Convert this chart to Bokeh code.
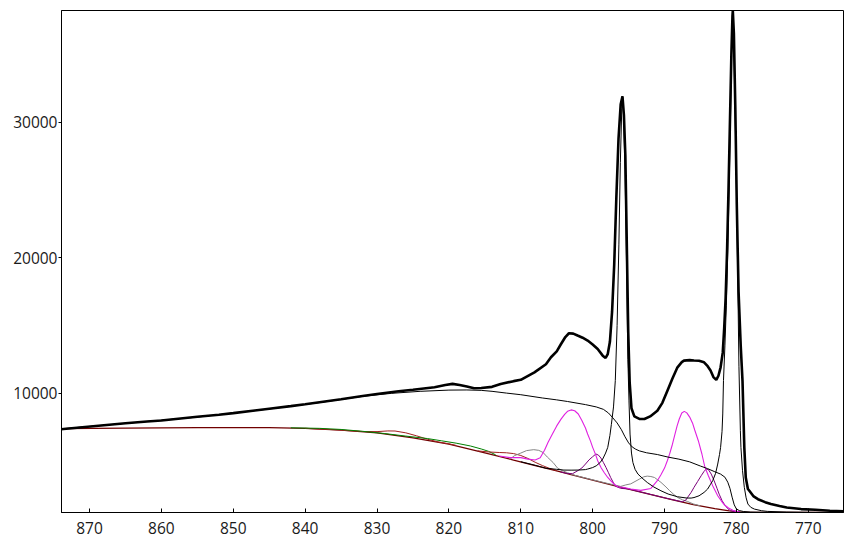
from bokeh.plotting import figure
from bokeh.models import Range1d, FixedTicker
from bokeh.embed import file_html
from bokeh.resources import INLINE

x_ticks = [870, 860, 850, 840, 830, 820, 810, 800, 790, 780, 770]
y_ticks = [10000, 20000, 30000]

raw_ev = [874.0, 871.0, 868.0, 865.0, 862.0, 860.0, 857.0, 855.0, 852.0, 850.0, 847.0, 845.0,
          842.0, 840.0, 837.0, 835.0, 832.0, 830.0, 827.0, 825.0, 822.0, 820.5, 819.5, 818.5,
          817.5, 816.5, 815.5, 814.0, 812.8, 811.0, 810.0, 808.1, 806.5, 805.8, 805.0, 804.4,
          803.8, 803.3, 802.7, 802.1, 801.4, 800.7, 800.0, 799.3, 798.6, 798.2, 797.9, 797.6,
          797.3, 797.0, 796.7, 796.4, 796.1, 795.85, 795.65, 795.45, 795.25, 795.05, 794.85, 794.6,
          794.2, 793.5, 792.8, 792.0, 791.0, 790.3, 789.6, 788.9, 788.2, 787.6, 787.3, 786.5,
          785.9, 785.2, 784.5, 784.0, 783.6, 783.2, 782.8, 782.5, 782.2, 781.9, 781.7, 781.5,
          781.3, 781.1, 780.9, 780.7, 780.55, 780.5, 780.35, 780.15, 779.95, 779.7, 779.4, 779.15,
          778.9, 778.7, 778.4, 778.2, 777.6, 777.0, 776.0, 775.2, 774.0, 773.0, 771.0, 769.0,
          767.0, 765.1]
raw_cps = [7350, 7500, 7650, 7800, 7930, 8000, 8170, 8270, 8420, 8540, 8740, 8870,
           9060, 9200, 9420, 9560, 9800, 9950, 10150, 10260, 10450, 10620, 10700, 10620,
           10500, 10380, 10400, 10480, 10690, 10900, 11000, 11550, 12150, 12660, 13100, 13640,
           14150, 14430, 14400, 14260, 14100, 13890, 13600, 13270, 12780, 12610, 12900, 13800,
           16000, 19500, 24500, 28800, 31300, 31900, 30500, 27500, 21000, 14500, 10800, 8900,
           8300, 8120, 8110, 8300, 8720, 9300, 10200, 11100, 11920, 12300, 12410, 12450,
           12420, 12400, 12290, 12000, 11680, 11200, 10990, 11300, 11920, 13000, 14800, 17000,
           20500, 25000, 30000, 35000, 37800, 38200, 36500, 31000, 24000, 17500, 13500, 10900,
           6000, 3800, 2950, 2820, 2400, 2200, 1980, 1840, 1700, 1590, 1470, 1420,
           1350, 1300]

shirley_ev = [874, 865, 855, 845, 838, 832, 828, 824, 820, 817.5, 815.5, 814, 812, 810, 807,
              805, 803.5, 801, 799.5, 798.5, 797.8, 797.2, 796.6, 796, 795.5, 795, 794.5, 794,
              793.5, 792.5, 791, 789.5, 788, 786.5, 785, 784, 783, 782.2, 781.6, 781.2, 780.9,
              780.6, 780.3, 780, 779.6, 779, 778, 776, 770, 765.1]
shirley_cps = [7380, 7790, 8250, 8850, 9320, 9780, 10000, 10150, 10240, 10250, 10220, 10150,
               10020, 9900, 9660, 9520, 9400, 9170, 9000, 8820, 8550, 8200, 7820, 7320, 6800,
               6350, 6050, 5880, 5760, 5620, 5490, 5300, 5150, 4950, 4640, 4450, 4220, 4050,
               3820, 3450, 3000, 2350, 1780, 1480, 1360, 1290, 1250, 1230, 1220, 1220]

main_ev = [810.0, 808.0, 806.5, 805.0, 804.0, 803.0, 802.0, 801.0, 800.7, 800.0, 799.5, 799.0,
           798.6, 798.2, 797.9, 797.6, 797.4, 797.1, 796.85, 796.6, 796.35, 796.15, 795.95,
           795.85, 795.7, 795.5, 795.3, 795.1, 794.95, 794.8, 794.6, 794.4, 794.1, 793.7, 793.0,
           792.4, 791.5, 790.5, 789.5, 788.2, 787.0, 786.3, 785.9, 785.2, 784.5, 784.0, 783.6,
           783.3, 782.9, 782.6, 782.35, 782.2, 782.0, 781.9, 781.8, 781.6, 781.4, 781.2, 781.0,
           780.8, 780.65, 780.5, 780.3, 780.05, 779.85, 779.65, 779.45, 779.37, 779.15, 778.9,
           778.65, 778.4, 778.0, 777.5, 776.5, 775.7, 773.0, 770.0, 765.1]
main_cps = [4960, 4700, 4480, 4400, 4345, 4340, 4345, 4380, 4420, 4530, 4660, 4880,
            5160, 5600, 6020, 6900, 7700, 9000, 10940, 15000, 21000, 27000, 31000,
            31900, 30500, 26500, 20000, 12500, 9500, 7000, 5600, 4900, 4400, 4050, 3700,
            3430, 3100, 2820, 2580, 2380, 2290, 2280, 2320, 2450, 2700, 2950, 3300,
            3560, 4100, 4790, 5500, 6020, 7200, 8480, 10940, 13500, 16500, 20500, 25500,
            31000, 35500, 38200, 34000, 27000, 20000, 12000, 7250, 6020, 4300, 3070,
            2300, 1840, 1600, 1470, 1350, 1300, 1250, 1230, 1222]

bg_ev = [874, 865, 855, 845, 840, 835, 830, 825, 820, 815, 811, 808, 805, 803, 800, 797, 795,
         792, 789, 786, 783, 781, 779.5, 778, 776, 765.1]
bg_cps = [7400, 7440, 7470, 7470, 7420, 7290, 7080, 6720, 6265, 5620, 5080, 4680, 4280, 4010,
          3610, 3205, 2940, 2550, 2170, 1800, 1500, 1340, 1260, 1230, 1220, 1220]

bumpA_ev = [840, 836, 834, 832, 830, 828.5, 827.5, 826, 824.5, 823, 821.5, 820, 819]
bumpA_cps = [7420, 7320, 7250, 7190, 7180, 7230, 7225, 7090, 6870, 6620, 6420, 6280, 6160]

bumpB_ev = [816, 814.5, 813, 812, 811, 810, 809, 808, 807, 806, 805]
bumpB_cps = [5760, 5680, 5640, 5620, 5560, 5420, 5200, 4920, 4680, 4470, 4300]

green_ev = [842, 838, 835, 832, 829, 826, 823, 821, 819, 817, 815.5, 814.5, 813.5]
green_cps = [7460, 7420, 7340, 7200, 7040, 6850, 6670, 6500, 6330, 6120, 5900, 5730, 5470]

gray_ev = [811.5, 810.9, 810.0, 809.2, 808.2, 807.5, 806.9, 806.3, 805.5, 804.9, 804.2, 803.5,
           802.5, 801.0, 799.5, 798.0, 797.0, 796.1, 795.4, 794.7, 793.5, 792.9, 792.4, 791.9,
           791.4, 790.5, 789.8, 789.3, 788.7, 788.2, 787.5, 786.8, 786.0, 785.0]
gray_cps = [5150, 5400, 5600, 5780, 5850, 5800, 5640, 5300, 4900, 4500, 4300, 4150,
            3960, 3760, 3560, 3370, 3250, 3140, 3250, 3330, 3680, 3850, 3900, 3870,
            3800, 3440, 3100, 2830, 2540, 2330, 2150, 2030, 1850, 1700]

magenta_ev = [813.0, 811.5, 810.0, 809.0, 808.0, 807.3, 806.7, 806.2, 805.6, 805.0, 804.4,
              803.9, 803.5, 803.0, 802.5, 802.0, 801.5, 801.0, 800.7, 800.3, 800.0, 799.6,
              799.3, 798.8, 798.4, 797.9, 797.5, 797.0, 796.5, 795.6, 794.7, 793.3, 791.9,
              791.0, 790.5, 790.0, 789.6, 789.3, 788.9, 788.6, 788.25, 787.95, 787.6, 787.25,
              786.9, 786.5, 786.1, 785.8, 785.3, 784.8, 784.4, 783.9, 783.3, 782.6, 782.0,
              781.7, 781.1, 780.5, 780.0, 779.5]
magenta_cps = [5380, 5260, 5260, 5150, 5090, 5250, 5800, 6400, 7000, 7600, 8100,
               8450, 8680, 8780, 8720, 8480, 8000, 7450, 7000, 6480, 6020, 5500,
               5030, 4500, 4170, 3800, 3560, 3300, 3120, 3060, 2950, 2850, 2990,
               3560, 4000, 4490, 5050, 5520, 6250, 6880, 7600, 8110, 8550, 8670,
               8560, 8250, 7800, 7300, 6510, 5530, 4590, 3930, 3190, 2450, 2000,
               1790, 1550, 1390, 1300, 1260]

purple_ev = [804.5, 803.5, 802.8, 802.1, 801.5, 801.0, 800.5, 800.0, 799.55, 799.2, 798.85,
             798.5, 798.15, 797.8, 797.5, 797.1, 796.8, 796.1, 795.0, 793.0, 790.0, 788.0,
             787.5, 787.0, 786.8, 786.3, 785.9, 785.4, 784.9, 784.5, 784.2, 783.9, 783.5,
             783.1, 782.7, 782.4, 782.0, 781.7, 781.2, 780.8, 780.2, 779.5]
purple_cps = [4215, 4090, 4080, 4290, 4500, 4790, 5100, 5330, 5530, 5450, 5230,
              4900, 4540, 4150, 3800, 3400, 3150, 3000, 2950, 2690, 2300, 2060,
              2010, 2150, 2330, 2700, 3070, 3500, 3930, 4250, 4420, 4380, 4050,
              3560, 3000, 2570, 2100, 1840, 1500, 1345, 1280, 1260]

p = figure(width=853, height=540,
           x_range=Range1d(873.9, 765.1), y_range=Range1d(1218, 38220),
           output_backend="svg", toolbar_location=None,
           min_border_left=61, min_border_right=10, min_border_top=10, min_border_bottom=28)

p.xgrid.visible = False
p.ygrid.visible = False
p.outline_line_color = "black"
p.outline_line_width = 1
p.background_fill_color = "white"
p.border_fill_color = "white"

p.xaxis.ticker = FixedTicker(ticks=x_ticks, minor_ticks=[])
p.yaxis.ticker = FixedTicker(ticks=y_ticks, minor_ticks=[])
for ax in (p.xaxis, p.yaxis):
    ax.axis_line_color = "black"
    ax.major_tick_line_color = "black"
    ax.minor_tick_line_color = None
    ax.major_label_text_font = "Open Sans"
    ax.major_label_text_font_size = "15.5px"
    ax.major_label_text_color = "#1a1a1a"
p.xaxis.major_tick_in = 4
p.xaxis.major_tick_out = 0
p.xaxis.major_label_standoff = 9
p.yaxis.major_tick_in = 0
p.yaxis.major_tick_out = 3
p.yaxis.major_label_standoff = 1

p.line(bg_ev, bg_cps, line_color="#700000", line_width=1.3)
p.line(bumpA_ev, bumpA_cps, line_color="#a02020", line_width=1)
p.line(green_ev, green_cps, line_color="#008000", line_width=1)
p.line(bumpB_ev, bumpB_cps, line_color="#a02020", line_width=1)
p.line(gray_ev, gray_cps, line_color="#858585", line_width=1)
p.line(purple_ev, purple_cps, line_color="#7a007a", line_width=1)
p.line(magenta_ev, magenta_cps, line_color="#e020e0", line_width=1.1)
p.line(shirley_ev, shirley_cps, line_color="black", line_width=1)
p.line(main_ev, main_cps, line_color="black", line_width=1)
p.line(raw_ev, raw_cps, line_color="black", line_width=2.6)

open("out.html", "w").write(file_html(p, INLINE))
